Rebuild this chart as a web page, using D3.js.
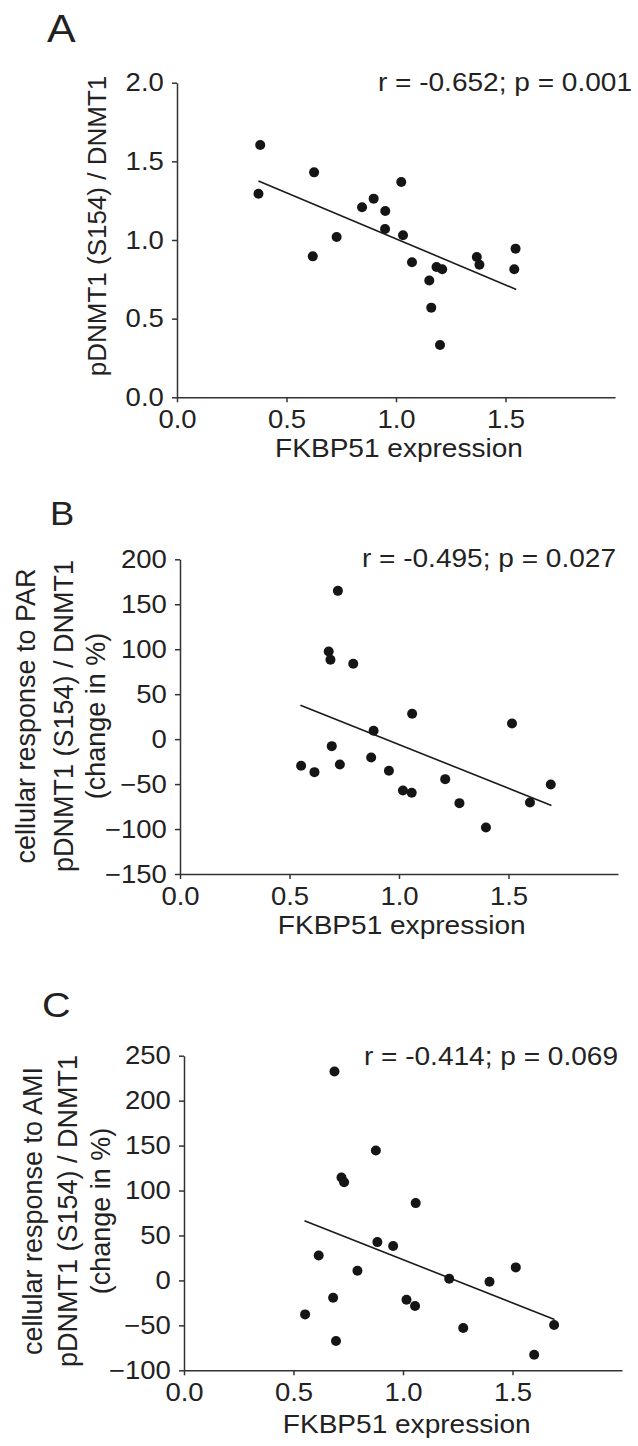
<!DOCTYPE html>
<html>
<head>
<meta charset="utf-8">
<script src="https://cdn.jsdelivr.net/npm/d3@7"></script>
<style>
  body { margin: 0; background: #fff; }
  svg { display: block; }
</style>
</head>
<body>
<script>
// values
const xTicks = [0, 0.5, 1.0, 1.5];

// A: pDNMT1 (S154) / DNMT1
const aX = [0.380, 0.372, 0.626, 0.620, 0.729, 0.845, 0.898, 0.951, 0.950, 1.024, 1.032,
            1.073, 1.152, 1.161, 1.185, 1.211, 1.201, 1.369, 1.381, 1.546, 1.540];
const aY = [1.604, 1.294, 1.430, 0.896, 1.019, 1.208, 1.263, 1.184, 1.070, 1.369, 1.030,
            0.858, 0.742, 0.570, 0.828, 0.814, 0.333, 0.892, 0.843, 0.945, 0.814];
const aFit = [[0.372, 1.375], [1.549, 0.686]];
const aYTicks = [0, 0.5, 1.0, 1.5, 2.0];
const aStat = "r = -0.652; p = 0.001";

// B: response to PAR
const bX = [0.721, 0.679, 0.687, 0.791, 1.060, 1.516, 0.884, 0.693, 0.553, 0.614,
            0.730, 0.873, 0.954, 1.018, 1.058, 1.211, 1.276, 1.397, 1.598, 1.693];
const bY = [164.9, 97.5, 88.2, 83.8, 28.2, 17.4, 9.3, -7.8, -29.7, -36.7,
            -28.2, -20.4, -35.2, -57.1, -59.7, -44.5, -71.2, -98.2, -70.4, -50.4];
const bFit = [[0.550, 37.8], [1.696, -73.8]];
const bYTicks = [-150, -100, -50, 0, 50, 100, 150, 200];
const bStat = "r = -0.495; p = 0.027";

// C: response to AMI
const cX = [0.687, 0.876, 0.719, 0.731, 1.058, 0.883, 0.955, 0.615, 0.792, 1.211,
            1.395, 1.515, 0.681, 1.016, 1.055, 0.553, 0.694, 1.275, 1.690, 1.599];
const cY = [232.4, 144.6, 114.5, 109.3, 86.0, 42.6, 38.2, 27.8, 10.7, 1.9,
            -1.5, 14.5, -19.3, -21.5, -28.5, -37.8, -67.5, -53.0, -49.7, -82.7];
const cFit = [[0.550, 66.3], [1.692, -43.4]];
const cYTicks = [-100, -50, 0, 50, 100, 150, 200, 250];
const cStat = "r = -0.414; p = 0.069";

const xTitle = "FKBP51 expression";

const FONT = "'Liberation Sans', Arial, Helvetica, sans-serif";
const INK = "#222";
const SX = 1.1; // figure is slightly stretched horizontally

const panels = [
  {letter: "A", letterPos: [47, 42, 39], xs: aX, ys: aY, fit: aFit, yTicks: aYTicks, fmt: ".1f",
   stat: aStat, title: ["pDNMT1 (S154) / DNMT1"], titleX: [105.5], titleY: 226, titleSize: 26,
   left: 177, right: 615, top: 82.7, bottom: 397.3, statPos: [632, 91], xlab: [399, 457]},
  {letter: "B", letterPos: [50, 525, 33], xs: bX, ys: bY, fit: bFit, yTicks: bYTicks, fmt: "d",
   stat: bStat, title: ["cellular response to PAR", "pDNMT1 (S154) / DNMT1", "(change in %)"],
   titleX: [34.7, 72.5, 105], titleY: 716, titleSize: 27,
   left: 180, right: 618, top: 559.3, bottom: 874, statPos: [616, 567], xlab: [401.7, 934]},
  {letter: "C", letterPos: [42, 1017, 36], xs: cX, ys: cY, fit: cFit, yTicks: cYTicks, fmt: "d",
   stat: cStat, title: ["cellular response to AMI", "pDNMT1 (S154) / DNMT1", "(change in %)"],
   titleX: [41.5, 76.7, 110], titleY: 1211, titleSize: 27,
   left: 184, right: 622, top: 1055.7, bottom: 1370.3, statPos: [618, 1065], xlab: [406.7, 1432.7]}
];

const svg = d3.select("body").append("svg")
  .attr("width", 638)
  .attr("height", 1446);

svg.append("rect").attr("width", 638).attr("height", 1446).attr("fill", "#fff");

panels.forEach(p => {
  const yVals = p.yTicks;
  const x = d3.scaleLinear().domain([0, 2]).range([p.left, p.right]);
  const y = d3.scaleLinear().domain([yVals[0], yVals[yVals.length - 1]]).range([p.bottom, p.top]);
  const g = svg.append("g");

  // axes
  const xAxis = g.append("g")
    .attr("transform", `translate(0,${p.bottom})`)
    .call(d3.axisBottom(x).tickValues(xTicks).tickFormat(d3.format(".1f"))
      .tickSize(5).tickSizeOuter(0).tickPadding(8));
  const yAxis = g.append("g")
    .attr("transform", `translate(${p.left},0)`)
    .call(d3.axisLeft(y).tickValues(yVals).tickFormat(d3.format(p.fmt))
      .tickSize(5).tickSizeOuter(0).tickPadding(7));

  [xAxis, yAxis].forEach(a => {
    a.selectAll("path, line").attr("stroke", "#333").attr("stroke-width", 1.5);
    a.selectAll("text")
      .attr("font-family", FONT)
      .attr("font-size", 25)
      .attr("fill", INK)
      .attr("transform", `scale(${SX},1)`);
  });

  // regression line
  g.append("path")
    .datum(p.fit)
    .attr("d", d3.line().x(d => x(d[0])).y(d => y(d[1])))
    .attr("fill", "none")
    .attr("stroke", "#1a1a1a")
    .attr("stroke-width", 1.6);

  // points
  g.selectAll("circle")
    .data(p.xs.map((v, i) => [v, p.ys[i]]))
    .enter()
    .append("circle")
    .attr("cx", d => x(d[0]))
    .attr("cy", d => y(d[1]))
    .attr("r", 5)
    .attr("fill", "#151515");

  // stats
  g.append("text")
    .attr("transform", `translate(${p.statPos[0]},${p.statPos[1]}) scale(${SX},1)`)
    .attr("text-anchor", "end")
    .attr("font-family", FONT)
    .attr("font-size", 25.5)
    .attr("fill", INK)
    .text(p.stat);

  // x title
  g.append("text")
    .attr("transform", `translate(${p.xlab[0]},${p.xlab[1]}) scale(${SX},1)`)
    .attr("text-anchor", "middle")
    .attr("font-family", FONT)
    .attr("font-size", 25.5)
    .attr("fill", INK)
    .text(xTitle);

  // y title (rotated, one line per entry)
  p.title.forEach((t, i) => {
    g.append("text")
      .attr("transform", `translate(${p.titleX[i]},${p.titleY}) rotate(-90)`)
      .attr("text-anchor", "middle")
      .attr("font-family", FONT)
      .attr("font-size", p.titleSize)
      .attr("fill", INK)
      .text(t);
  });

  // panel letter
  g.append("text")
    .attr("transform", `translate(${p.letterPos[0]},${p.letterPos[1]}) scale(${SX},1)`)
    .attr("font-family", FONT)
    .attr("font-size", p.letterPos[2])
    .attr("fill", INK)
    .text(p.letter);
});
</script>
</body>
</html>
